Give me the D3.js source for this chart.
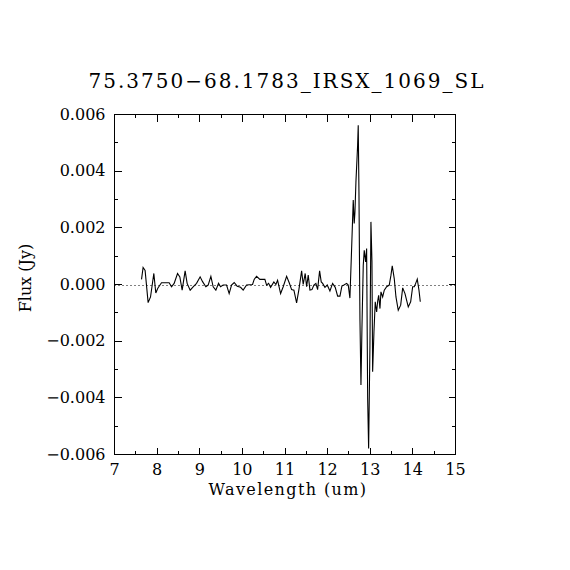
<!DOCTYPE html>
<html>
<head>
<meta charset="utf-8">
<script src="https://cdn.jsdelivr.net/npm/d3@7"></script>
<style>
  body { margin: 0; background: #fff; }
  text { font-family: "DejaVu Serif", serif; fill: #000; }
</style>
</head>
<body>
<svg id="chart" width="570" height="570"></svg>
<script>
var title = "75.3750\u221268.1783_IRSX_1069_SL";
var xLabel = "Wavelength (um)";
var yLabel = "Flux (Jy)";

var xTicks = [7, 8, 9, 10, 11, 12, 13, 14, 15];
var yTicks = [-0.006, -0.004, -0.002, 0, 0.002, 0.004, 0.006];

var wavelength = [
  7.634, 7.671, 7.718, 7.789, 7.845, 7.923, 7.969, 8.016, 8.103, 8.282,
  8.338, 8.399, 8.479, 8.533, 8.587, 8.657, 8.704, 8.775, 8.845, 8.925,
  9.009, 9.066, 9.143, 9.197, 9.261, 9.315, 9.378, 9.441, 9.488, 9.549,
  9.629, 9.690, 9.746, 9.808, 9.878, 9.958, 10.019, 10.099, 10.239, 10.277,
  10.333, 10.411, 10.528, 10.568, 10.615, 10.662, 10.739, 10.786, 10.826, 10.897,
  10.958, 11.038, 11.099, 11.155, 11.209, 11.272, 11.326, 11.390, 11.427, 11.474,
  11.507, 11.545, 11.585, 11.632, 11.678, 11.725, 11.765, 11.812, 11.850, 11.883,
  11.937, 11.991, 12.054, 12.117, 12.178, 12.235, 12.289, 12.336, 12.383, 12.446,
  12.484, 12.523, 12.563, 12.601, 12.624, 12.641, 12.664, 12.704, 12.718, 12.735,
  12.758, 12.782, 12.805, 12.836, 12.859, 12.892, 12.915, 12.939, 12.962, 12.993,
  13.016, 13.040, 13.056, 13.087, 13.117, 13.150, 13.174, 13.197, 13.228, 13.251,
  13.291, 13.329, 13.385, 13.446, 13.486, 13.516, 13.563, 13.603, 13.657, 13.714,
  13.761, 13.815, 13.892, 13.948, 13.995, 14.033, 14.066, 14.103, 14.143, 14.174
];

var flux = [
  0.00018, 0.00060, 0.00050, -0.00064, -0.00044, 0.00039, -0.00030, -0.00013, 0.00006, 0.00006,
  -0.00008, 0.00004, 0.00039, 0.00027, -0.00020, 0.00048, 0.00004, -0.00020, -0.00008, 0.00004,
  0.00027, 0.00010, -0.00008, -0.00002, 0.00029, -0.00008, -0.00020, 0.00004, -0.00008, -0.00002,
  -0.00002, -0.00032, -0.00002, 0.00007, -0.00006, -0.00010, -0.00020, -0.00002, 0.00000, 0.00018,
  0.00029, 0.00018, 0.00018, -0.00002, 0.00004, -0.00010, 0.00009, 0.00000, 0.00015, -0.00032,
  -0.00008, 0.00029, 0.00006, -0.00018, -0.00020, -0.00065, -0.00018, 0.00048, 0.00000, 0.00039,
  -0.00008, 0.00033, -0.00020, -0.00018, -0.00002, 0.00004, -0.00018, 0.00048, 0.00009, 0.00004,
  -0.00010, -0.00002, -0.00023, 0.00004, -0.00010, -0.00041, -0.00041, -0.00005, -0.00002, 0.00004,
  -0.00002, -0.00048, 0.00127, 0.00298, 0.00215, 0.00256, 0.00362, 0.00492, 0.00562, 0.00327,
  -0.00120, -0.00355, -0.00155, 0.00068, 0.00121, 0.00080, 0.00127, -0.00401, -0.00579, -0.00214,
  0.00221, 0.00080, -0.00308, -0.00167, -0.00061, -0.00097, -0.00059, -0.00038, -0.00085, -0.00026,
  -0.00044, -0.00020, -0.00008, -0.00002, 0.00033, 0.00066, 0.00021, -0.00044, -0.00091, -0.00073,
  -0.00012, -0.00032, -0.00079, -0.00061, -0.00008, -0.00008, 0.00004, 0.00019, -0.00020, -0.00061
];

(function() {
  var pLeft = 114.5, pRight = 455.5, pTop = 114.5, pBottom = 454.5;

  var svg = d3.select("#chart");

  var x = d3.scaleLinear().domain([7, 15]).range([pLeft, pRight]);
  var y = d3.scaleLinear().domain([-0.006, 0.006]).range([pBottom, pTop]);

  var majorLen = 7, minorLen = 3.5;

  // ticks on all four sides, pointing inward
  var xMinor = d3.range(7, 15.001, 0.5);
  var yMinor = d3.range(-0.006, 0.0061, 0.001);

  var tg = svg.append("g")
    .attr("stroke", "#000").attr("stroke-width", 1)
    .attr("shape-rendering", "crispEdges");

  xMinor.forEach(function(v) {
    var major = Math.abs(v - Math.round(v)) < 1e-6;
    var len = major ? majorLen : minorLen;
    tg.append("line").attr("x1", x(v)).attr("x2", x(v)).attr("y1", pBottom).attr("y2", pBottom - len);
    tg.append("line").attr("x1", x(v)).attr("x2", x(v)).attr("y1", pTop).attr("y2", pTop + len);
  });
  yMinor.forEach(function(v) {
    var k = Math.round(v / 0.001);
    var len = (k % 2 === 0) ? majorLen : minorLen;
    tg.append("line").attr("y1", y(v)).attr("y2", y(v)).attr("x1", pLeft).attr("x2", pLeft + len);
    tg.append("line").attr("y1", y(v)).attr("y2", y(v)).attr("x1", pRight).attr("x2", pRight - len);
  });

  // frame
  svg.append("rect")
    .attr("x", pLeft).attr("y", pTop)
    .attr("width", pRight - pLeft).attr("height", pBottom - pTop)
    .attr("fill", "none").attr("stroke", "#000").attr("stroke-width", 1)
    .attr("shape-rendering", "crispEdges");

  // tick labels
  svg.append("g").selectAll("text")
    .data(xTicks).enter().append("text")
    .attr("x", function(d) { return x(d); })
    .attr("y", pBottom + 20.5)
    .attr("text-anchor", "middle")
    .attr("font-size", 16)
    .text(function(d) { return d; });

  var fmt = d3.format(".3f");
  svg.append("g").selectAll("text")
    .data(yTicks).enter().append("text")
    .attr("x", pLeft - 9)
    .attr("y", function(d) { return y(d) + 5; })
    .attr("text-anchor", "end")
    .attr("font-size", 16)
    .text(function(d) { return fmt(d); });

  // zero line
  svg.append("line")
    .attr("x1", pLeft).attr("x2", pRight)
    .attr("y1", Math.round(y(0)) + 0.5).attr("y2", Math.round(y(0)) + 0.5)
    .attr("stroke", "#000").attr("stroke-width", 1)
    .attr("stroke-dasharray", "1,3");

  // spectrum
  var line = d3.line()
    .x(function(d, i) { return x(wavelength[i]); })
    .y(function(d) { return y(d); });

  svg.append("path")
    .datum(flux)
    .attr("d", line)
    .attr("fill", "none")
    .attr("stroke", "#000")
    .attr("stroke-width", 1.1);

  // titles
  svg.append("text")
    .attr("x", 287).attr("y", 88)
    .attr("text-anchor", "middle")
    .attr("font-size", 20)
    .attr("letter-spacing", 2)
    .text(title);

  svg.append("text")
    .attr("x", 288).attr("y", 495)
    .attr("text-anchor", "middle")
    .attr("font-size", 16)
    .attr("letter-spacing", 1.4)
    .text(xLabel);

  svg.append("text")
    .attr("transform", "translate(31,278) rotate(-90)")
    .attr("text-anchor", "middle")
    .attr("font-size", 16)
    .text(yLabel);
})();
</script>
</body>
</html>
